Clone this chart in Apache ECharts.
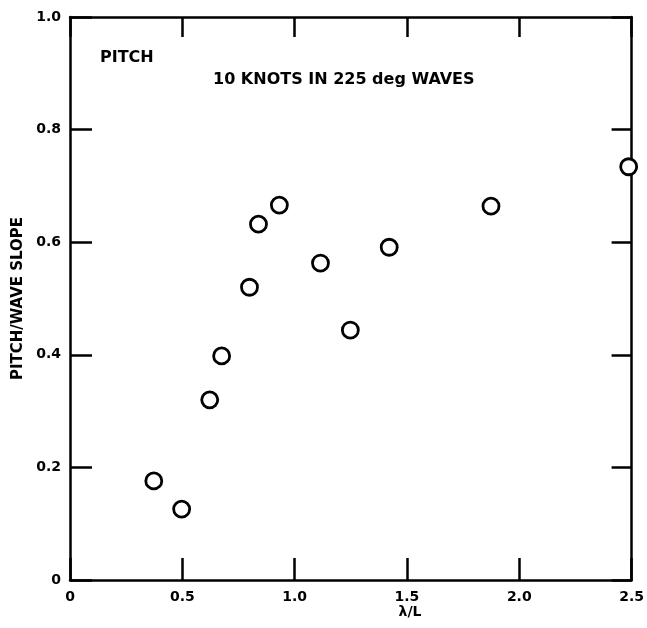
<!DOCTYPE html>
<html>
<head>
<meta charset="utf-8">
<script src="https://cdn.jsdelivr.net/npm/echarts@6/dist/echarts.min.js"></script>
<style>html,body{margin:0;padding:0;background:#fff;}#c{width:647px;height:628px;}</style>
</head>
<body>
<div id="c"></div>
<script>
const waveRatio = [0.373, 0.497, 0.622, 0.675, 0.799, 0.839, 0.932, 1.115, 1.248, 1.421, 1.874, 2.487];
const pitchSlope = [0.176, 0.126, 0.320, 0.398, 0.520, 0.632, 0.666, 0.563, 0.444, 0.591, 0.664, 0.734];
const xTickLabels = ['0', '0.5', '1.0', '1.5', '2.0', '2.5'];
const yTickLabels = ['0', '0.2', '0.4', '0.6', '0.8', '1.0'];
const xTickValues = [0, 0.5, 1.0, 1.5, 2.0, 2.5];
const yTickValues = [0, 0.2, 0.4, 0.6, 0.8, 1.0];

const FONT = '"DejaVu Sans", "Liberation Sans", Arial, sans-serif';
const chart = echarts.init(document.getElementById('c'));
const labelFromList = (vals, labels) => (v) => {
  for (let i = 0; i < vals.length; i++) if (Math.abs(vals[i] - v) < 1e-6) return labels[i];
  return '';
};
const axisLine = { show: true, onZero: false, lineStyle: { color: '#000', width: 2.5 } };
const axisTickIn = (len) => ({ show: true, inside: true, length: len, lineStyle: { color: '#000', width: 2.5 } });

chart.setOption({
  animation: false,
  backgroundColor: '#fff',
  grid: { left: 70, right: 14, top: 17, bottom: 48, containLabel: false },
  xAxis: [
    {
      type: 'value', position: 'bottom', min: 0, max: 2.5, interval: 0.5,
      axisLine: axisLine, axisTick: axisTickIn(22), splitLine: { show: false },
      axisLabel: { color: '#000', fontFamily: FONT, fontWeight: 'bold', fontSize: 14, margin: 10,
        formatter: labelFromList(xTickValues, xTickLabels) }
    },
    {
      type: 'value', position: 'top', min: 0, max: 2.5, interval: 0.5,
      axisLine: axisLine, axisTick: axisTickIn(20), splitLine: { show: false },
      axisLabel: { show: false }
    }
  ],
  yAxis: [
    {
      type: 'value', position: 'left', min: 0, max: 1.0, interval: 0.2,
      axisLine: axisLine, axisTick: axisTickIn(22), splitLine: { show: false },
      name: 'PITCH/WAVE SLOPE', nameLocation: 'middle', nameGap: 42, nameRotate: 90,
      nameTextStyle: { color: '#000', fontFamily: FONT, fontWeight: 'bold', fontSize: 15 },
      axisLabel: { color: '#000', fontFamily: FONT, fontWeight: 'bold', fontSize: 14, margin: 9,
        formatter: labelFromList(yTickValues, yTickLabels) }
    },
    {
      type: 'value', position: 'right', min: 0, max: 1.0, interval: 0.2,
      axisLine: axisLine, axisTick: axisTickIn(20), splitLine: { show: false },
      axisLabel: { show: false }
    }
  ],
  graphic: [
    { type: 'text', x: 100, y: 58, style: { text: 'PITCH', fill: '#000', font: 'bold 16px ' + FONT, align: 'left', verticalAlign: 'middle' } },
    { type: 'text', x: 213, y: 80, style: { text: '10 KNOTS IN 225 deg WAVES', fill: '#000', font: 'bold 16px ' + FONT, align: 'left', verticalAlign: 'middle' } },
    { type: 'text', x: 410, y: 612, style: { text: 'λ/L', fill: '#000', font: 'bold 14px ' + FONT, align: 'center', verticalAlign: 'middle' } }
  ],
  series: [{
    type: 'scatter',
    xAxisIndex: 0, yAxisIndex: 0,
    data: waveRatio.map((x, i) => [x, pitchSlope[i]]),
    symbol: 'circle',
    symbolSize: 16,
    itemStyle: { color: '#fff', borderColor: '#000', borderWidth: 2.8, opacity: 1 },
    clip: false,
    z: 10
  }]
});
</script>
</body>
</html>
